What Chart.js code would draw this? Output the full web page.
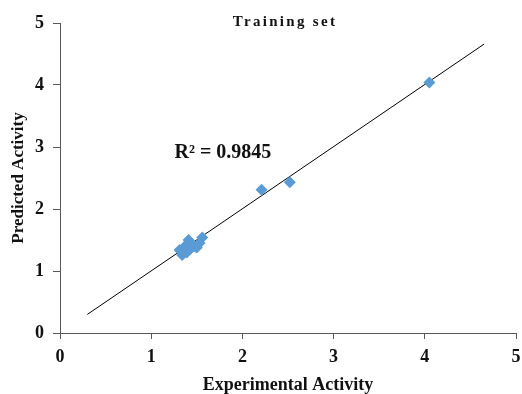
<!DOCTYPE html>
<html>
<head>
<meta charset="utf-8">
<script src="https://cdn.jsdelivr.net/npm/chart.js@4"></script>
<style>
  html, body { margin: 0; padding: 0; background: #fff; }
  #wrap { width: 522px; height: 394px; }
</style>
</head>
<body>
<div id="wrap"><canvas id="c" width="522" height="394"></canvas></div>
<script>
// Data
const expActivity  = [1.31, 1.34, 1.37, 1.39, 1.41, 1.43, 1.45, 1.47, 1.50, 1.53, 1.56, 2.21, 2.52, 4.05];
const predActivity = [1.34, 1.26, 1.40, 1.30, 1.50, 1.36, 1.43, 1.40, 1.38, 1.45, 1.54, 2.31, 2.43, 4.04];
const trendX = [0.30, 4.65];
const trendY = [0.30, 4.66];
const tickValues = [0, 1, 2, 3, 4, 5];
const chartTitle = 'Training set';
const r2Label = 'R\u00B2 = 0.9845';
const r2Anchor = [1.255, 2.91];

const serif = '"Liberation Serif", "Times New Roman", serif';
const axisGray = '#595959';

const points = expActivity.map((x, i) => ({ x: x, y: predActivity[i] }));
const trend = trendX.map((x, i) => ({ x: x, y: trendY[i] }));

const textPlugin = {
  id: 'texts',
  afterDraw(chart) {
    const ctx = chart.ctx;
    const xs = chart.scales.x, ys = chart.scales.y;
    ctx.save();
    ctx.fillStyle = '#111';
    ctx.font = 'bold 15px ' + serif;
    ctx.letterSpacing = '2.3px';
    ctx.textAlign = 'center';
    ctx.textBaseline = 'middle';
    ctx.fillText(chartTitle, 285, 22);
    ctx.letterSpacing = '0px';
    ctx.font = 'bold 20px ' + serif;
    ctx.textAlign = 'left';
    ctx.fillText(r2Label, xs.getPixelForValue(r2Anchor[0]), ys.getPixelForValue(r2Anchor[1]));
    ctx.restore();
  }
};

new Chart(document.getElementById('c'), {
  type: 'scatter',
  data: {
    datasets: [
      {
        type: 'line',
        data: trend,
        borderColor: '#000',
        borderWidth: 1,
        pointRadius: 0,
        fill: false,
        order: 2
      },
      {
        data: points,
        pointStyle: 'rectRot',
        pointRadius: 6,
        backgroundColor: '#5b9bd5',
        borderColor: '#5b9bd5',
        borderWidth: 0,
        order: 1
      }
    ]
  },
  options: {
    responsive: false,
    animation: false,
    layout: { padding: { left: 0, right: 4, top: 23, bottom: 0 } },
    plugins: { legend: { display: false }, tooltip: { enabled: false } },
    scales: {
      x: {
        type: 'linear',
        min: 0, max: 5,
        afterBuildTicks(s) { s.ticks = tickValues.map(v => ({ value: v })); },
        afterFit(s) { s.height = 61; s.paddingLeft = 0; s.paddingRight = 0; },
        grid: { drawOnChartArea: false, drawTicks: true, tickLength: 6, color: axisGray, tickColor: axisGray },
        border: { display: true, color: axisGray, width: 1 },
        ticks: { padding: 8, color: '#111', font: { family: serif, size: 18, weight: 'bold' } },
        title: { display: true, text: 'Experimental Activity', color: '#111',
                 font: { family: serif, size: 18, weight: 'bold', lineHeight: 1 },
                 padding: { top: 0, bottom: 0 } }
      },
      y: {
        type: 'linear',
        min: 0, max: 5,
        afterBuildTicks(s) { s.ticks = tickValues.map(v => ({ value: v })); },
        afterFit(s) { s.width = 60; s.paddingTop = 0; s.paddingBottom = 0; },
        grid: { drawOnChartArea: false, drawTicks: true, tickLength: 7, color: axisGray, tickColor: axisGray },
        border: { display: true, color: axisGray, width: 1 },
        ticks: { padding: 9, color: '#111', font: { family: serif, size: 18, weight: 'bold' } },
        title: { display: true, text: 'Predicted Activity', color: '#111',
                 font: { family: serif, size: 17, weight: 'bold', lineHeight: 1 },
                 padding: { top: 10, bottom: 0 } }
      }
    }
  },
  plugins: [textPlugin]
});
</script>
</body>
</html>
